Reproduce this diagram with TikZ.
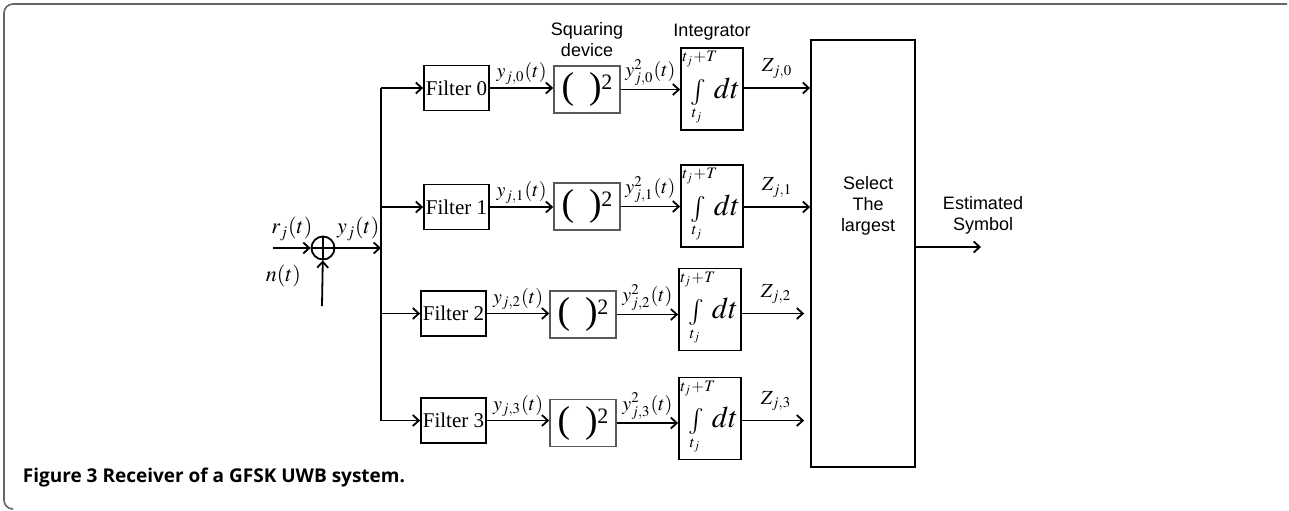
\documentclass[tikz,border=0pt]{standalone}
\usepackage{graphicx}
\usepackage{mathptmx}
\usepackage{fontspec}
\setmainfont{Liberation Serif}
\setsansfont{Liberation Sans}
\newfontfamily\capfont{Open Sans}
\usepackage{tikz}
\usetikzlibrary{positioning,arrows.meta,calc}
\tikzset{
  filt/.style={draw,line width=0.9pt,minimum width=32.5pt,minimum height=22.5pt,inner sep=0.5pt,font=\fontsize{10.5}{12}\selectfont},
  sqbox/.style={draw=black!65,line width=0.8pt,minimum width=33pt,minimum height=23.5pt,inner sep=0pt},
  intbox/.style={draw,line width=0.9pt,minimum width=31pt,minimum height=41pt,inner sep=0pt},
  selbox/.style={draw,line width=0.9pt,minimum width=52pt,minimum height=213.5pt,inner sep=0pt},
  lbl/.style={font=\sffamily\fontsize{9}{10.5}\selectfont,align=center,inner sep=1pt},
  sig/.style={font=\fontsize{10}{12}\selectfont,inner sep=1.5pt},
  lim/.style={font=\fontsize{8}{9}\selectfont,inner sep=0pt},
  isgn/.style={inner sep=0pt},
  dtx/.style={font=\fontsize{15}{15}\selectfont,inner sep=0pt},
}
\newcommand{\sqbody}{\resizebox*{!}{17pt}{(}\hspace{7.5pt}\resizebox*{!}{17pt}{)}\raisebox{4.5pt}{\fontsize{11}{11}\selectfont 2}}
\newcommand{\intmarks}[1]{%
  \node[lim] (#1u) at ($(#1)+(-12,-30)$) {$t_j\!+\!T$};
  \node[isgn] (#1s) at ($(#1)+(-14,3)$) {\resizebox*{!}{13pt}{$\int$}};
  \node[lim] (#1l) at ($(#1)+(-15,27)$) {$t_j$};
  \node[dtx] (#1d) at ($(#1)+(15,-1)$) {$dt$};}
\begin{document}
\begin{tikzpicture}[x=0.5pt,y=-0.5pt,line width=0.9pt,
   >={Straight Barb[length=3pt,width=5.5pt]},
   frm/.style={draw=black!60,line width=0.8pt,rounded corners=4.5pt}]
  \useasboundingbox (0,0) rectangle (1289,510);
  \draw[frm] (1287,4) -- (4,4) -- (4,509) -- (12,509);
  % adder
  \node[circle,draw,minimum size=11.5pt,inner sep=0pt] (sum) at (323,248) {};
  \draw (sum.north) -- (sum.south) (sum.west) -- (sum.east);
  \coordinate (rin) at (273,248);
  \coordinate (nin) at (322,306);
  \coordinate (bus) at (381,248);
  \draw[->] (rin) -- (sum) node[midway,above,font=\fontsize{11}{12}\selectfont] {$r_j(t)$};
  \draw[->] (nin) -- (sum) node[pos=0.65,left=7pt,font=\fontsize{11}{12}\selectfont] {$n(t)$};
  \draw[->] (sum) -- (bus) node[midway,above,font=\fontsize{11}{12}\selectfont] {$y_j(t)$};
  % filter bank
  \node[filt] (f0) at (456.5,88) {Filter 0};
  \node[filt] (f1) at (456.5,207) {Filter 1};
  \node[filt] (f2) at (453.5,313.5) {Filter 2};
  \node[filt] (f3) at (453.5,420.5) {Filter 3};
  \draw (f0.west -| bus) -- (f3.west -| bus);
  \draw[->] (f0.west -| bus) -- (f0);
  \draw[->] (f1.west -| bus) -- (f1);
  \draw[->] (f2.west -| bus) -- (f2);
  \draw[->] (f3.west -| bus) -- (f3);
  % squaring devices
  \node[sqbox] (s0) at (587,89.5) {\sqbody};
  \node[sqbox] (s1) at (587,206.5) {\sqbody};
  \node[sqbox] (s2) at (583,314.5) {\sqbody};
  \node[sqbox] (s3) at (583,423) {\sqbody};
  \node[lbl,above=3pt of s0] (sqlbl) {Squaring\\device};
  \draw[->] (f0) -- (f0 -| s0.west) node[midway,above,sig] {$y_{j,0}(t)$};
  \draw[->] (f1) -- (f1 -| s1.west) node[midway,above,sig] {$y_{j,1}(t)$};
  \draw[->] (f2) -- (f2 -| s2.west) node[midway,above,sig] {$y_{j,2}(t)$};
  \draw[->] (f3) -- (f3 -| s3.west) node[midway,above,sig] {$y_{j,3}(t)$};
  % integrators
  \node[intbox] (i0) at (712,89) {};
  \node[intbox] (i1) at (712,206) {};
  \node[intbox] (i2) at (710,309.5) {};
  \node[intbox] (i3) at (710,418.5) {};
  \intmarks{i0} \intmarks{i1} \intmarks{i2} \intmarks{i3}
  \node[lbl,above=2pt of i0] (intlbl) {Integrator};
  \draw[->] (s0) -- (s0 -| i0.west) node[midway,above,sig] {$y^2_{j,0}(t)$};
  \draw[->] (s1) -- (s1 -| i1.west) node[midway,above,sig] {$y^2_{j,1}(t)$};
  \draw[->] (s2) -- (s2 -| i2.west) node[midway,above,sig] {$y^2_{j,2}(t)$};
  \draw[->] (s3) -- (s3 -| i3.west) node[midway,above,sig] {$y^2_{j,3}(t)$};
  % decision
  \node[selbox] (sel) at (863,253.5) {};
  \node[lbl] (seltxt) at (868,206) {Select\\The\\largest};
  \draw[->] (f0 -| i0.east) -- (f0 -| sel.west) node[midway,above=3pt,sig] {$Z_{j,0}$};
  \draw[->] (f1 -| i1.east) -- (f1 -| sel.west) node[midway,above=3pt,sig] {$Z_{j,1}$};
  \draw[->,shorten >=3pt] (f2 -| i2.east) -- (f2 -| sel.west) node[midway,above=3pt,sig] {$Z_{j,2}$};
  \draw[->,shorten >=3pt] (f3 -| i3.east) -- (f3 -| sel.west) node[midway,above=3pt,sig] {$Z_{j,3}$};
  \coordinate (sym) at (981,247);
  \draw[->] (sel.east |- sym) -- (sym);
  \node[lbl] (est) at (983,215) {Estimated\\Symbol};
  \node[anchor=base west,inner sep=0pt,font=\capfont\bfseries\fontsize{9.5}{11}\selectfont] (cap) at (22,482) {Figure 3 Receiver of a GFSK UWB system.};
\end{tikzpicture}
\end{document}
